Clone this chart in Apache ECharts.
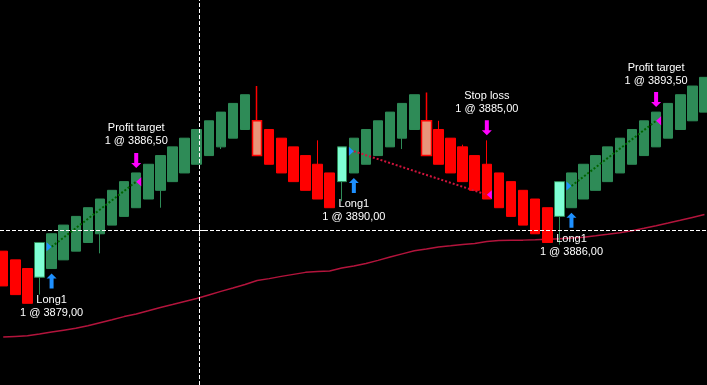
<!DOCTYPE html>
<html><head><meta charset="utf-8">
<script src="https://cdn.jsdelivr.net/npm/echarts@6/dist/echarts.min.js"></script>
<style>html,body{margin:0;padding:0;background:#000}#c{width:707px;height:385px}</style>
</head><body><div id="c"></div>
<script>
// Renko-style bricks: index = bar number
const opens = [3878.5,3877.5,3876.5,3875.5,3876.5,3877.5,3878.5,3879.5,3880.5,3881.5,
  3882.5,3883.5,3884.5,3885.5,3886.5,3887.5,3888.5,3889.5,3890.5,3891.5,
  3892.5,3893.5,3892.5,3891.5,3890.5,3889.5,3888.5,3887.5,3886.5,3887.5,
  3888.5,3889.5,3890.5,3891.5,3892.5,3893.5,3892.5,3891.5,3890.5,3889.5,
  3888.5,3887.5,3886.5,3885.5,3884.5,3883.5,3882.5,3883.5,3884.5,3885.5,
  3886.5,3887.5,3888.5,3889.5,3890.5,3891.5,3892.5,3893.5,3894.5];
const closes = [3874.5,3873.5,3872.5,3879.5,3880.5,3881.5,3882.5,3883.5,3884.5,3885.5,
  3886.5,3887.5,3888.5,3889.5,3890.5,3891.5,3892.5,3893.5,3894.5,3895.5,
  3896.5,3889.5,3888.5,3887.5,3886.5,3885.5,3884.5,3883.5,3890.5,3891.5,
  3892.5,3893.5,3894.5,3895.5,3896.5,3889.5,3888.5,3887.5,3886.5,3885.5,
  3884.5,3883.5,3882.5,3881.5,3880.5,3879.5,3886.5,3887.5,3888.5,3889.5,
  3890.5,3891.5,3892.5,3893.5,3894.5,3895.5,3896.5,3897.5,3898.5];
const lows = [3874.5,3873.5,3872.5,3873.5,3876.5,3877.5,3878.5,3879.5,3878.25,3881.5,
  3882.5,3883.5,3884.5,3883.5,3886.5,3887.5,3888.5,3889.5,3890.25,3891.5,
  3892.5,3889.5,3888.5,3887.5,3886.5,3885.5,3884.5,3883.5,3884.25,3887.5,
  3888.5,3889.5,3890.5,3890.25,3892.5,3889.5,3888.5,3887.5,3886.5,3885.5,
  3884.5,3883.5,3882.5,3881.5,3880.5,3879.5,3879.25,3883.5,3884.5,3885.5,
  3886.5,3887.5,3888.5,3889.5,3890.5,3891.5,3892.5,3893.5,3894.5];
const highs = [3878.5,3877.5,3876.5,3879.5,3880.5,3881.5,3882.5,3883.5,3884.5,3885.5,
  3886.5,3887.5,3888.5,3889.5,3890.5,3891.5,3892.5,3893.5,3894.5,3895.5,
  3896.5,3897.5,3892.5,3891.5,3890.5,3889.5,3891.25,3887.5,3890.5,3891.5,
  3892.5,3893.5,3894.5,3895.5,3896.5,3896.75,3893.5,3891.5,3890.75,3889.5,
  3891.25,3887.5,3886.5,3885.5,3884.5,3883.5,3886.5,3887.5,3888.5,3889.5,
  3890.5,3891.5,3892.5,3893.5,3894.5,3895.5,3896.5,3897.5,3898.5];
const maValues = [3868.61,3868.69,3868.76,3868.97,3869.20,3869.41,3869.62,3869.92,3870.27,3870.61,
  3870.97,3871.28,3871.64,3872.02,3872.36,3872.71,3873.05,3873.46,3873.87,3874.26,
  3874.67,3875.13,3875.34,3875.60,3875.83,3876.06,3876.15,3876.22,3876.56,3876.79,
  3877.09,3877.44,3877.82,3878.19,3878.54,3878.75,3878.98,3879.11,3879.27,3879.37,
  3879.61,3879.72,3879.75,3879.77,3879.82,3879.88,3879.94,3880.02,3880.11,3880.27,
  3880.44,3880.63,3880.86,3881.13,3881.42,3881.73,3882.05,3882.38,3882.71];
const upReversalBars = [3, 28, 46];
const downReversalBars = [21, 35];
const entryBars = [4, 29, 47];
const entryPrices = [3879.00, 3890.00, 3886.00];
const entryNames = ['Long1', 'Long1', 'Long1'];
const exitBars = [11, 40, 54];
const exitPrices = [3886.50, 3885.00, 3893.50];
const exitNames = ['Profit target', 'Stop loss', 'Profit target'];
const crosshairBar = 16.18;
const crosshairPrice = 3880.9;

const GREEN = '#2E8B57', RED = '#FF0000', MINT = '#7FFFD4', SALMON = '#E9967A';
const BLUE = '#1E90FF', MAGENTA = '#FF00FF';
const fmt = p => p.toFixed(2).replace('.', ',');

const candleData = opens.map((o, i) => {
  const item = { value: [i, o, closes[i], lows[i], highs[i]] };
  if (upReversalBars.includes(i)) item.itemStyle = { color: MINT, borderColor: GREEN };
  if (downReversalBars.includes(i)) item.itemStyle = { color0: SALMON, borderColor0: RED, borderWidth: 1.5 };
  return item;
});

const labelStyle = { color: '#fff', fontSize: 11, fontFamily: 'Liberation Sans, Arial, sans-serif', lineHeight: 13, distance: 5 };

const series = [
  { type: 'line', z: 1, data: maValues.map((v, i) => [i, v]), symbol: 'none', silent: true,
    lineStyle: { color: '#B3143C', width: 1.5 } },
  { type: 'candlestick', z: 2, data: candleData, barWidth: 10, silent: true,
    itemStyle: { color: GREEN, color0: RED, borderColor: GREEN, borderColor0: RED, borderWidth: 1 } }
];
entryBars.forEach((b, k) => {
  const win = exitPrices[k] > entryPrices[k];
  series.push({ type: 'line', z: 3, silent: true, symbol: 'none',
    data: [[b, entryPrices[k]], [exitBars[k], exitPrices[k]]],
    lineStyle: { color: win ? '#006400' : '#D0143C', width: 2, type: [2, 2] } });
});
series.push({ type: 'scatter', z: 4, silent: true, symbol: 'triangle', symbolSize: [9, 5], symbolRotate: -90,
  symbolOffset: [-2.5, 0], itemStyle: { color: BLUE, opacity: 1 },
  data: entryBars.map((b, k) => [b, entryPrices[k]]) });
series.push({ type: 'scatter', z: 4, silent: true, symbol: 'triangle', symbolSize: [9, 5], symbolRotate: 90,
  symbolOffset: [2.5, 0], itemStyle: { color: MAGENTA, opacity: 1 },
  data: exitBars.map((b, k) => [b, exitPrices[k]]) });
series.push({ type: 'scatter', z: 5, silent: true,
  symbol: 'path://M5,0L10,5L7,5L7,15L3,15L3,5L0,5Z', symbolSize: [10, 15], symbolOffset: [0, 12.5],
  itemStyle: { color: BLUE, opacity: 1 },
  label: Object.assign({ show: true, position: 'bottom' }, labelStyle),
  data: entryBars.map((b, k) => ({ value: [b, lows[b]],
    label: { formatter: entryNames[k] + '\n1 @ ' + fmt(entryPrices[k]) } })) });
series.push({ type: 'scatter', z: 5, silent: true,
  symbol: 'path://M3,0L7,0L7,10L10,10L5,15L0,10L3,10Z', symbolSize: [10, 15], symbolOffset: [0, -12.5],
  itemStyle: { color: MAGENTA, opacity: 1 },
  label: Object.assign({ show: true, position: 'top' }, labelStyle),
  data: exitBars.map((b, k) => ({ value: [b, highs[b]],
    label: { formatter: exitNames[k] + '\n1 @ ' + fmt(exitPrices[k]) } })) });
series.push({ type: 'line', z: 10, silent: true, data: [],
  markLine: { silent: true, symbol: 'none', animation: false, label: { show: false },
    lineStyle: { color: '#fff', type: [4, 2], width: 1 },
    data: [
      { xAxis: crosshairBar }, { yAxis: crosshairPrice },
      [{ coord: [crosshairBar - 0.5, crosshairPrice], lineStyle: { type: 'solid', color: '#fff', width: 1 } }, { coord: [crosshairBar + 0.5, crosshairPrice] }],
      [{ coord: [crosshairBar, crosshairPrice - 0.7], lineStyle: { type: 'solid', color: '#fff', width: 1 } }, { coord: [crosshairBar, crosshairPrice + 0.7] }]
    ] } });

const chart = echarts.init(document.getElementById('c'), null, { renderer: 'canvas' });
chart.setOption({
  animation: false,
  backgroundColor: '#000',
  grid: { left: 0, right: 0, top: 0, bottom: 0 },
  xAxis: { type: 'value', min: -0.267, max: 58.21, show: false, splitLine: { show: false } },
  yAxis: { type: 'value', min: 3863.1, max: 3907.4, show: false, splitLine: { show: false } },
  series: series
});
</script></body></html>
